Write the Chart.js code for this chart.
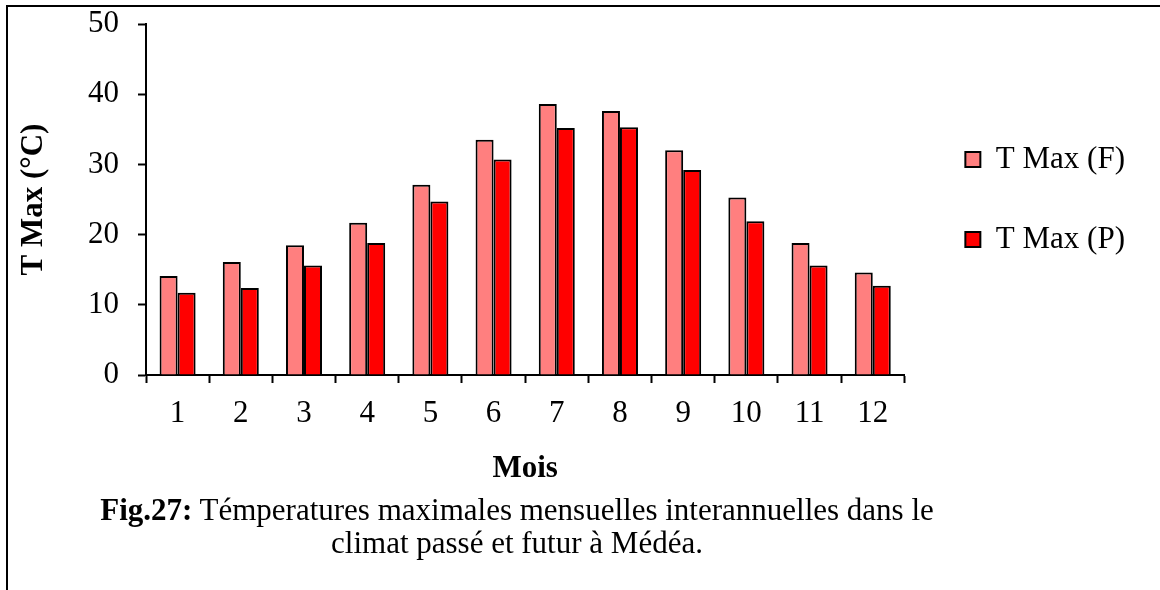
<!DOCTYPE html>
<html>
<head>
<meta charset="utf-8">
<script src="https://cdn.jsdelivr.net/npm/chart.js@4/dist/chart.umd.min.js"></script>
<style>
	body { margin: 0; background: #fff; }
	#wrap { position: relative; width: 1160px; height: 590px; overflow: hidden; }
	#frame { position: absolute; left: 6px; top: 5px; right: -10px; bottom: -10px; border-top: 2.5px solid #000; border-left: 2.5px solid #000; }
	#caption { position: absolute; left: 0; top: 493px; width: 1034px; text-align: center; font-family: 'Liberation Serif', serif; font-size: 31px; line-height: 33px; color: #000; }
</style>
</head>
<body>
<div id="wrap">
	<div id="frame"></div>
	<canvas id="temp-chart" width="1160" height="590"></canvas>
	<div id="caption"><b>Fig.27:</b> Témperatures maximales mensuelles interannuelles dans le<br>climat passé et futur à Médéa.</div>
</div>
<script>
const months = ['1', '2', '3', '4', '5', '6', '7', '8', '9', '10', '11', '12'];
const tMaxFutur = [14.1, 16.1, 18.5, 21.7, 27.1, 33.5, 38.6, 37.6, 32.0, 25.3, 18.8, 14.6];
const tMaxPasse = [11.7, 12.4, 15.6, 18.8, 24.7, 30.7, 35.2, 35.3, 29.2, 21.9, 15.6, 12.7];

const fontFamily = "'Liberation Serif', 'Times New Roman', serif";

// nudge the legend a bit further away from the plot
const legendShift = {
	id: 'legendShift',
	afterLayout(chart) {
		chart.legend.left += 12;
		chart.legend.right += 12;
	}
};

new Chart(document.querySelector('#temp-chart'), {
	type: 'bar',
	data: {
		labels: months,
		datasets: [
			{
				label: 'T Max (F)',
				data: tMaxFutur,
				backgroundColor: 'rgb(255, 127, 127)',
				borderColor: '#000',
				borderWidth: 2,
				categoryPercentage: 0.57,
				barPercentage: 1
			},
			{
				label: 'T Max (P)',
				data: tMaxPasse,
				backgroundColor: 'rgb(255, 0, 0)',
				borderColor: '#000',
				borderWidth: 2,
				categoryPercentage: 0.57,
				barPercentage: 1
			}
		]
	},
	options: {
		responsive: false,
		animation: false,
		layout: {
			padding: { left: 18, top: 24, right: 37, bottom: 105.5 }
		},
		scales: {
			x: {
				grid: { offset: true, drawOnChartArea: false, tickLength: 8, tickColor: '#000', tickWidth: 2 },
				border: { color: '#000', width: 2 },
				ticks: { color: '#000', padding: 12, maxRotation: 0, font: { family: fontFamily, size: 31 } },
				title: { display: true, text: 'Mois', color: '#000', padding: 0, font: { family: fontFamily, size: 31, weight: 'bold', lineHeight: 1 } },
				afterFit: scale => { scale.height = 109.5; }
			},
			y: {
				min: 0,
				max: 50,
				grid: { drawOnChartArea: false, tickLength: 8, tickColor: '#000', tickWidth: 2 },
				border: { color: '#000', width: 2 },
				ticks: { stepSize: 10, color: '#000', padding: 19, font: { family: fontFamily, size: 31 } },
				title: { display: true, text: 'T Max (°C)', color: '#000', padding: 0, font: { family: fontFamily, size: 31, weight: 'bold', lineHeight: 1 } },
				afterFit: scale => {
					scale.width = 128;
					scale.paddingTop = 0;
					scale.paddingBottom = 0;
				}
			}
		},
		plugins: {
			legend: {
				position: 'right',
				fullSize: false,
				labels: {
					color: '#000',
					boxWidth: 15,
					boxHeight: 15,
					padding: 49,
					font: { family: fontFamily, size: 31 }
				}
			},
			tooltip: { enabled: false }
		}
	},
	plugins: [legendShift]
});
</script>
</body>
</html>
